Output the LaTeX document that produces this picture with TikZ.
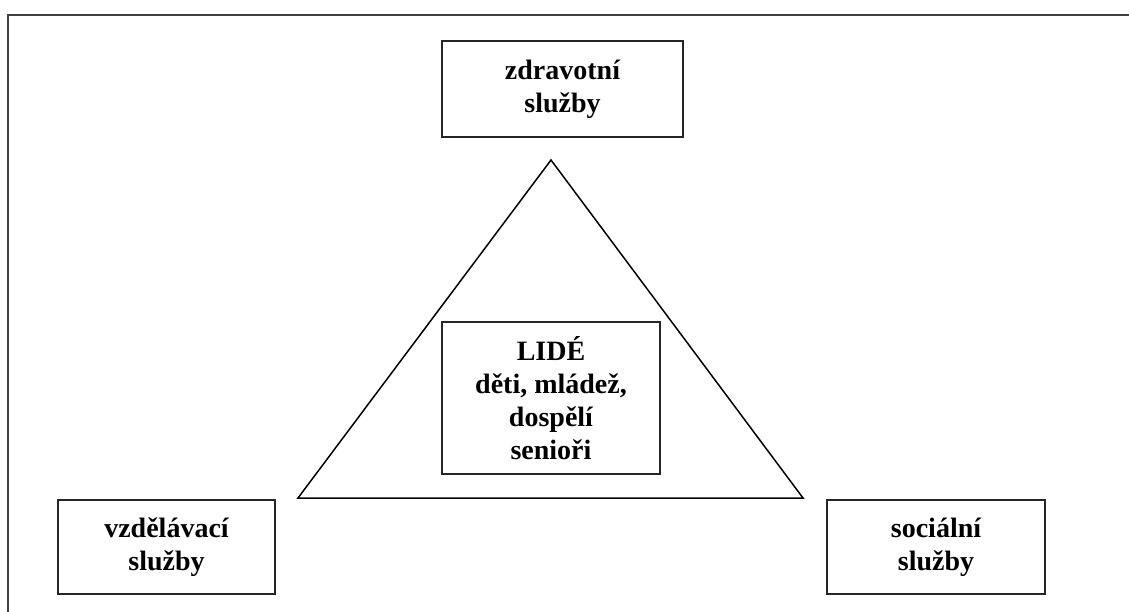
\documentclass[tikz,border=0pt]{standalone}
\usepackage{fontspec}
\setmainfont{Liberation Serif}
\begin{document}
\begin{tikzpicture}[x=1pt,y=-1pt,
  box/.style={draw=black!85, line width=2pt, align=center,
    font=\bfseries\fontsize{28}{33}\selectfont, inner sep=0pt},
  frame/.style={draw=black!75, line width=2pt},
  tri/.style={draw=black, line width=1.5pt, line join=miter}]
  \useasboundingbox (0,0) rectangle (1129,612);
  % outer frame, running off the page to the right and bottom
  \draw[frame] (8,620) -- (8,15) -- (1135,15);

  % service boxes
  \node[box, minimum width=241pt, minimum height=96pt] (health) at (562.5,89) {zdravotní\\služby};
  \node[box, minimum width=217pt, minimum height=94pt] (edu) at (166.5,547) {vzdělávací\\služby};
  \node[box, minimum width=218pt, minimum height=94pt] (social) at (936,547) {sociální\\služby};

  % triangle
  \coordinate (apex) at (551,160);
  \coordinate (bl) at (298,498);
  \coordinate (br) at (803,498);
  \draw[tri] (apex) -- (bl) -- (br) -- cycle;

  % people in the centre
  \node[box, minimum width=218pt, minimum height=152pt] (people) at (551,398)
    {LIDÉ\\děti, mládež,\\dospělí\\senioři};
\end{tikzpicture}
\end{document}
